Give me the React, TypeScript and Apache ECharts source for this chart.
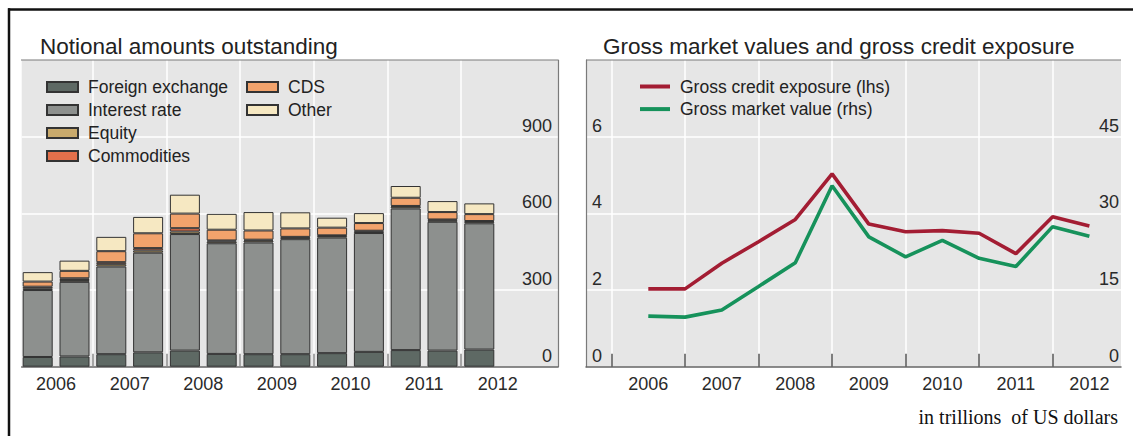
import React, { useEffect, useRef } from "react";
import * as echarts from "echarts";

// Half-year periods (end-June / end-December), H1 2006 .. H1 2012
const periods = [
  "Jun 2006", "Dec 2006", "Jun 2007", "Dec 2007", "Jun 2008", "Dec 2008", "Jun 2009",
  "Dec 2009", "Jun 2010", "Dec 2010", "Jun 2011", "Dec 2011", "Jun 2012",
];
const yearLabels = ["2006", "2007", "2008", "2009", "2010", "2011", "2012"];

// Notional amounts outstanding (trillions of US dollars)
const foreignExchange = [38, 40, 49, 56, 63, 50, 49, 49, 53, 58, 65, 63, 67];
const interestRate = [262, 292, 343, 390, 456, 433, 437, 450, 452, 465, 554, 504, 494];
const equity = [7, 7, 9, 9, 10, 7, 7, 6, 6, 6, 7, 6, 6];
const commodities = [6, 7, 8, 9, 13, 4, 4, 3, 3, 3, 3, 3, 3];
const cds = [20, 29, 43, 58, 57, 42, 36, 33, 30, 30, 32, 29, 27];
const other = [37, 40, 56, 64, 74, 62, 72, 63, 39, 39, 46, 43, 42];

// Gross credit exposure (lhs) and gross market value (rhs)
const grossCreditExposure = [2.03, 2.03, 2.7, 3.26, 3.84, 5.03, 3.72, 3.52, 3.55, 3.48, 2.95, 3.91, 3.67];
const grossMarketValue = [9.9, 9.7, 11.1, 15.7, 20.35, 35.4, 25.4, 21.5, 24.7, 21.2, 19.6, 27.4, 25.5];

const leftTicks = [0, 300, 600, 900, 1200];
const lhsTicks = [0, 2, 4, 6, 8];
const rhsTicks = [0, 15, 30, 45, 60];

const FONT = "'Liberation Sans', Arial, Helvetica, sans-serif";
const SERIF = "'Liberation Serif', 'Times New Roman', serif";
const TEXT = "#222";
const GRID_BG = "#e6e6e6";
const BORDER = "#7a7a7a";

const barSeries = [
  { name: "Foreign exchange", data: foreignExchange, color: "#5e6964" },
  { name: "Interest rate", data: interestRate, color: "#8d908e" },
  { name: "Equity", data: equity, color: "#c9aa6c" },
  { name: "Commodities", data: commodities, color: "#e3704b" },
  { name: "CDS", data: cds, color: "#f2a36c" },
  { name: "Other", data: other, color: "#f6e8c2" },
];

export default function App() {
  const ref = useRef<HTMLDivElement>(null);

  useEffect(() => {
    if (!ref.current) return;
    const chart = echarts.init(ref.current, null, { renderer: "svg" });

    const leftBoundaries = periods.map((_, i) => i + 0.5).filter((v, i) => i % 2 === 1 && v < 12);
    const leftLabelPos = yearLabels.map((_, k) => 2 * k + 0.5);
    const rightBoundaries = [-1, 1, 3, 5, 7, 9, 11];
    const rightLabelPos = yearLabels.map((_, k) => 2 * k);
    const barSlots = [...periods, ""];

    const yLabel = (max: number) => ({
      inside: true,
      fontSize: 18,
      color: "#2a2a2a",
      fontFamily: FONT,
      verticalAlign: "bottom",
      lineHeight: 22,
      formatter: (v: number) => (v >= max ? "" : String(v)),
    });

    const legendText = { fontSize: 17.5, lineHeight: 18, color: TEXT, fontFamily: FONT, padding: [0, 0, 0, 5] };

    const option: any = {
      animation: false,
      backgroundColor: "#ffffff",
      textStyle: { fontFamily: FONT },
      title: [
        {
          text: "Notional amounts outstanding",
          left: 40,
          top: 35,
          padding: 0,
          textStyle: { fontSize: 22.5, fontWeight: "normal", color: TEXT, fontFamily: FONT },
        },
        {
          text: "Gross market values and gross credit exposure",
          left: 603,
          top: 35,
          padding: 0,
          textStyle: { fontSize: 22.5, fontWeight: "normal", color: TEXT, fontFamily: FONT },
        },
      ],
      legend: [
        {
          data: ["Foreign exchange", "Interest rate", "Equity", "Commodities"],
          orient: "vertical",
          left: 46,
          top: 78,
          padding: 0,
          itemWidth: 31,
          itemHeight: 10,
          itemGap: 5,
          icon: "rect",
          selectedMode: false,
          textStyle: legendText,
        },
        {
          data: ["CDS", "Other"],
          orient: "vertical",
          left: 246,
          top: 78,
          padding: 0,
          itemWidth: 31,
          itemHeight: 10,
          itemGap: 5,
          icon: "rect",
          selectedMode: false,
          textStyle: legendText,
        },
        {
          data: ["Gross credit exposure (lhs)", "Gross market value (rhs)"],
          orient: "vertical",
          left: 640,
          top: 77.5,
          padding: 0,
          itemWidth: 30,
          itemHeight: 4,
          itemGap: 4.6,
          icon: "rect",
          selectedMode: false,
          textStyle: legendText,
        },
      ],
      grid: [
        { left: 21.7, top: 60, width: 536.3, height: 306.7, show: true, backgroundColor: GRID_BG, borderWidth: 0 },
        { left: 586, top: 60, width: 535, height: 306.7, show: true, backgroundColor: GRID_BG, borderWidth: 0 },
        // overlay grid holding the bars: 14 half-year slots of 36.8 px
        { left: 19.3, top: 60, width: 515.2, height: 306.7, show: false },
      ],
      xAxis: [
        {
          type: "value",
          gridIndex: 0,
          min: -0.435,
          max: 14.14,
          axisLine: { show: true, onZero: false, lineStyle: { color: "#666", width: 1.5 } },
          axisTick: { show: true, inside: true, length: 13, customValues: leftBoundaries, lineStyle: { color: "#8a8a8a", width: 1.5 } },
          splitLine: { show: true, lineStyle: { color: "#ffffff", width: 1.5 } },
          axisLabel: {
            customValues: leftLabelPos,
            formatter: (v: number) => yearLabels[Math.round((v - 0.5) / 2)],
            fontSize: 18,
            color: "#2a2a2a",
            fontFamily: FONT,
            margin: 8,
          },
        },
        {
          type: "value",
          gridIndex: 1,
          min: -1.695,
          max: 12.86,
          axisLine: { show: true, onZero: false, lineStyle: { color: "#666", width: 1.5 } },
          axisTick: { show: true, inside: true, length: 13, customValues: rightBoundaries, lineStyle: { color: "#555", width: 1.5 } },
          splitLine: { show: true, lineStyle: { color: "#ffffff", width: 1.5 } },
          axisLabel: {
            customValues: rightLabelPos,
            formatter: (v: number) => yearLabels[Math.round(v / 2)],
            fontSize: 18,
            color: "#2a2a2a",
            fontFamily: FONT,
            margin: 8,
          },
        },
        {
          type: "category",
          gridIndex: 2,
          data: barSlots,
          boundaryGap: true,
          show: false,
        },
      ],
      yAxis: [
        {
          type: "value",
          gridIndex: 0,
          position: "right",
          min: leftTicks[0],
          max: leftTicks[leftTicks.length - 1],
          interval: leftTicks[1] - leftTicks[0],
          axisLine: { show: true, onZero: false, lineStyle: { color: BORDER, width: 1.2 } },
          axisTick: { show: false },
          splitLine: { show: true, showMinLine: false, showMaxLine: false, lineStyle: { color: "#ffffff", width: 1.5 } },
          axisLabel: { ...yLabel(1200), margin: 6 },
        },
        {
          type: "value",
          gridIndex: 1,
          position: "left",
          min: lhsTicks[0],
          max: lhsTicks[lhsTicks.length - 1],
          interval: lhsTicks[1] - lhsTicks[0],
          axisLine: { show: true, onZero: false, lineStyle: { color: BORDER, width: 1.2 } },
          axisTick: { show: false },
          splitLine: { show: true, showMinLine: false, showMaxLine: false, lineStyle: { color: "#ffffff", width: 1.5 } },
          axisLabel: { ...yLabel(8), margin: 6 },
        },
        {
          type: "value",
          gridIndex: 1,
          position: "right",
          min: rhsTicks[0],
          max: rhsTicks[rhsTicks.length - 1],
          interval: rhsTicks[1] - rhsTicks[0],
          axisLine: { show: false, onZero: false },
          axisTick: { show: false },
          splitLine: { show: false },
          axisLabel: { ...yLabel(60), margin: 2 },
        },
        {
          type: "value",
          gridIndex: 2,
          min: leftTicks[0],
          max: leftTicks[leftTicks.length - 1],
          show: false,
          splitLine: { show: false },
        },
      ],
      series: [
        ...barSeries.map((s) => ({
          name: s.name,
          type: "bar",
          stack: "notional",
          xAxisIndex: 2,
          yAxisIndex: 3,
          barWidth: 30,
          itemStyle: { color: s.color, borderColor: "#333", borderWidth: 1 },
          data: s.data,
        })),
        {
          name: "Gross credit exposure (lhs)",
          type: "line",
          xAxisIndex: 1,
          yAxisIndex: 1,
          showSymbol: false,
          symbol: "none",
          itemStyle: { color: "#a31d33" },
          lineStyle: { color: "#a31d33", width: 3.6 },
          data: grossCreditExposure.map((v, i) => [i, v]),
        },
        {
          name: "Gross market value (rhs)",
          type: "line",
          xAxisIndex: 1,
          yAxisIndex: 2,
          showSymbol: false,
          symbol: "none",
          itemStyle: { color: "#16925b" },
          lineStyle: { color: "#16925b", width: 3.6 },
          data: grossMarketValue.map((v, i) => [i, v]),
        },
      ],
      graphic: [
        { type: "line", z: 100, shape: { x1: 8, y1: 9.5, x2: 1133, y2: 9.5 }, style: { stroke: "#111", lineWidth: 2.5 } },
        { type: "line", z: 100, shape: { x1: 9, y1: 8.3, x2: 9, y2: 436 }, style: { stroke: "#111", lineWidth: 2.5 } },
        { type: "line", z: 100, shape: { x1: 21, y1: 60, x2: 558, y2: 60 }, style: { stroke: BORDER, lineWidth: 1.2 } },
        { type: "line", z: 100, shape: { x1: 586, y1: 60, x2: 1121, y2: 60 }, style: { stroke: BORDER, lineWidth: 1.2 } },
        {
          type: "text",
          z: 100,
          x: 1118,
          y: 417,
          style: {
            text: "in trillions  of US dollars",
            font: `20px ${SERIF}`,
            fill: "#111",
            align: "right",
            verticalAlign: "middle",
          },
        },
      ],
    };

    chart.setOption(option);
    return () => chart.dispose();
  }, []);

  return (
    <div
      ref={ref}
      style={{ position: "absolute", left: 0, top: 0, width: 1133, height: 436 }}
    />
  );
}
